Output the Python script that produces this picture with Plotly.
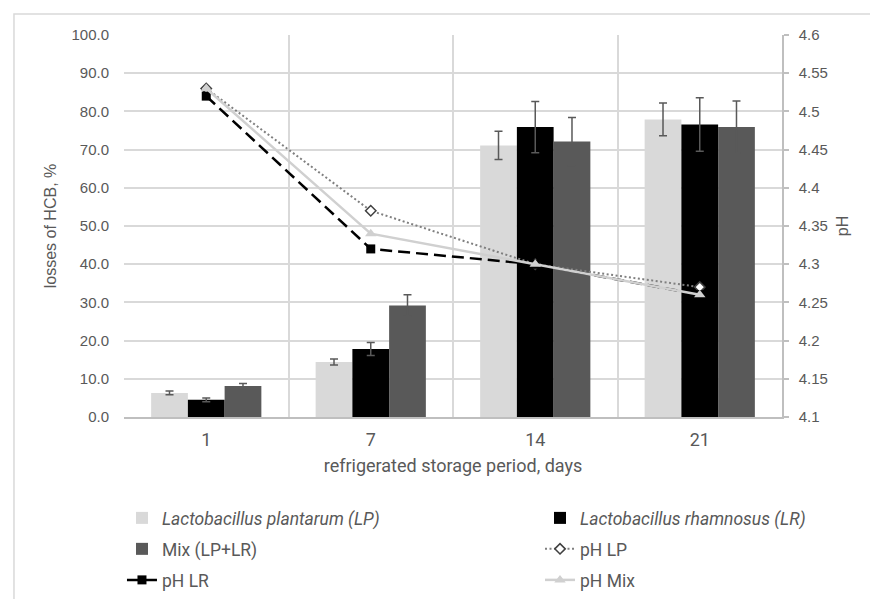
import plotly.graph_objects as go

days = ["1", "7", "14", "21"]

loss_lp = [6.3, 14.4, 71.1, 77.9]
loss_lp_err = [0.5, 0.8, 3.7, 4.3]
loss_lr = [4.5, 17.8, 75.9, 76.6]
loss_lr_err = [0.5, 1.7, 6.7, 7.0]
loss_mix = [8.1, 29.2, 72.1, 75.9]
loss_mix_err = [0.7, 2.8, 6.3, 6.8]

ph_lp = [4.53, 4.37, 4.30, 4.27]
ph_lr = [4.52, 4.32, 4.30, 4.26]
ph_mix = [4.53, 4.34, 4.30, 4.26]

left_ticks = [0, 10, 20, 30, 40, 50, 60, 70, 80, 90, 100]
right_tickvals = [4.1, 4.15, 4.2, 4.25, 4.3, 4.35, 4.4, 4.45, 4.5, 4.55, 4.6]
right_ticktext = ["4.1", "4.15", "4.2", "4.25", "4.3", "4.35", "4.4", "4.45", "4.5", "4.55", "4.6"]

NARROW = "Roboto, Arial"
TICKF = "Liberation Sans, Arial"
GRAY = "#595959"

err_style = dict(type="data", thickness=1.5, width=4, color=GRAY)

fig = go.Figure()
fig.add_trace(go.Bar(x=days, y=loss_lp, name="<i>Lactobacillus plantarum (LP)</i>",
                     marker=dict(color="#d9d9d9", line=dict(width=0)),
                     error_y=dict(array=loss_lp_err, **err_style), legend="legend"))
fig.add_trace(go.Bar(x=days, y=loss_lr, name="<i>Lactobacillus rhamnosus (LR)</i>",
                     marker=dict(color="#000000", line=dict(width=0)),
                     error_y=dict(array=loss_lr_err, **err_style), legend="legend2"))
fig.add_trace(go.Bar(x=days, y=loss_mix, name="Mix (LP+LR)",
                     marker=dict(color="#595959", line=dict(width=0)),
                     error_y=dict(array=loss_mix_err, **err_style), legend="legend3"))
fig.add_trace(go.Scatter(x=days, y=ph_lp, name="pH LP", yaxis="y2", mode="lines+markers",
                         line=dict(color="#7f7f7f", width=2, dash="2px,2.5px"),
                         marker=dict(symbol="diamond", size=8, color="white",
                                     line=dict(color="#404040", width=1.5)),
                         legend="legend4"))
fig.add_trace(go.Scatter(x=days, y=ph_lr, name="pH LR", yaxis="y2", mode="lines+markers",
                         line=dict(color="#000000", width=2.5, dash="12px,6px"),
                         marker=dict(symbol="square", size=9, color="#000000"),
                         legend="legend5"))
fig.add_trace(go.Scatter(x=days, y=ph_mix, name="pH Mix", yaxis="y2", mode="lines+markers",
                         line=dict(color="#d0d0d0", width=2.5),
                         marker=dict(symbol="triangle-up", size=10, color="#d0d0d0"),
                         legend="legend6"))


def leg(x, y):
    return dict(orientation="h", x=x, y=y, xref="container", yref="container",
                xanchor="left", yanchor="middle",
                font=dict(family=NARROW, size=17.5, color=GRAY),
                bgcolor="rgba(0,0,0,0)")


COL1, COL2 = 0.1402, 0.6207
ROW1, ROW2, ROW3 = 0.1352, 0.0835, 0.0317

fig.update_layout(
    width=870, height=599,
    margin=dict(l=124, r=88, t=35, b=182, autoexpand=False),
    paper_bgcolor="white", plot_bgcolor="white",
    barmode="group", bargap=0.33, bargroupgap=0,
    showlegend=True,
    legend=leg(COL1, ROW1),
    legend2=leg(COL2, ROW1),
    legend3=leg(COL1, ROW2),
    legend4=leg(COL2, ROW2),
    legend5=leg(COL1, ROW3),
    legend6=leg(COL2, ROW3),
    xaxis=dict(
        type="category", tickson="boundaries", showgrid=True,
        gridcolor="#d9d9d9", gridwidth=1.5,
        showline=True, linecolor="#bfbfbf", linewidth=1.5,
        ticks="", ticklabelstandoff=6, automargin=False,
        tickfont=dict(family=NARROW, size=18, color=GRAY),
        title=dict(text="refrigerated storage period, days",
                   font=dict(family=NARROW, size=18, color=GRAY), standoff=10),
        range=[-0.5, 3.5],
    ),
    yaxis=dict(
        range=[0, 100], tickvals=left_ticks, tickformat=".1f",
        showgrid=True, gridcolor="#d9d9d9", gridwidth=1.5,
        zeroline=False, showline=False, ticks="", ticklabelstandoff=14,
        automargin=False,
        tickfont=dict(family=TICKF, size=15, color=GRAY),
        title=dict(text="losses of HCB, %", font=dict(family=TICKF, size=16, color=GRAY),
                   standoff=10),
    ),
    yaxis2=dict(
        overlaying="y", side="right", range=[4.1, 4.6],
        tickvals=right_tickvals, ticktext=right_ticktext,
        showgrid=False, zeroline=False, automargin=False,
        showline=True, linecolor="#bfbfbf", linewidth=1.5,
        ticks="outside", ticklen=5, tickcolor="#bfbfbf", tickwidth=1.5,
        ticklabelstandoff=7,
        tickfont=dict(family=TICKF, size=15, color=GRAY),
        title=dict(text="pH", font=dict(family=TICKF, size=16, color=GRAY), standoff=10),
    ),
    shapes=[dict(type="rect", xref="paper", yref="paper",
                 x0=-0.1672, x1=1.3, y0=1.055, y1=-0.6,
                 line=dict(color="#d9d9d9", width=1.5), fillcolor="rgba(0,0,0,0)",
                 layer="below")],
)

fig.write_html("out.html", config={"displayModeBar": False},
               post_script="document.body.style.margin='0';document.body.style.padding='0';")
